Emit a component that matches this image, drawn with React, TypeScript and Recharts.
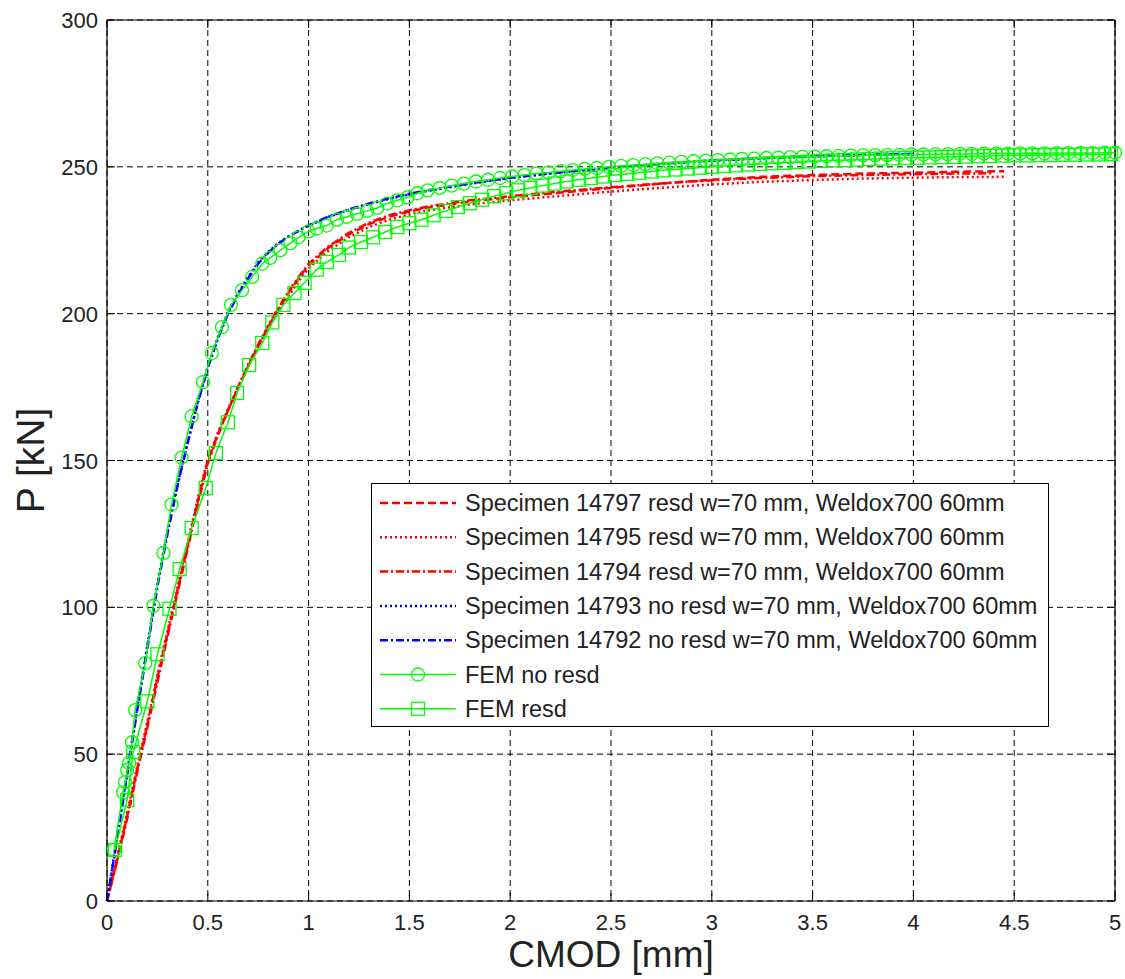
import { LineChart, Line, XAxis, YAxis, CartesianGrid, ReferenceLine, Legend } from 'recharts';

// CMOD [mm], P [kN] pairs
const spec14797: [number, number][] = [
  [0, 0], [0.05, 14], [0.1, 29], [0.15, 45], [0.2, 60], [0.25, 76], [0.3, 91], [0.35, 106], [0.4, 121], [0.45, 136],
  [0.5, 150], [0.55, 159], [0.6, 167], [0.65, 174.5], [0.7, 182], [0.75, 189], [0.8, 195.5], [0.85, 201.5], [0.9, 207],
  [0.95, 212], [1.0, 216.5], [1.1, 222.5], [1.2, 227], [1.3, 230.5], [1.4, 233], [1.5, 234.8], [1.6, 236.2], [1.8, 238.2],
  [2.0, 239.6], [2.2, 240.9], [2.4, 242.2], [2.6, 243.4], [2.8, 244.6], [3.0, 245.6], [3.25, 246.6], [3.5, 247.2],
  [3.75, 247.7], [4.0, 248], [4.2, 248.3], [4.45, 248.5],
];
const spec14795: [number, number][] = [
  [0, 0], [0.05, 15], [0.1, 30], [0.15, 46], [0.2, 61], [0.25, 77], [0.3, 92], [0.35, 107], [0.4, 122], [0.45, 137],
  [0.5, 150.5], [0.55, 159.5], [0.6, 167.5], [0.65, 175], [0.7, 182.5], [0.75, 189], [0.8, 195], [0.85, 201], [0.9, 206],
  [0.95, 211], [1.0, 215.5], [1.1, 221.5], [1.2, 226], [1.3, 229.5], [1.4, 232], [1.5, 233.8], [1.6, 235.2], [1.8, 237.2],
  [2.0, 238.6], [2.2, 239.8], [2.4, 241], [2.6, 242.1], [2.8, 243.1], [3.0, 244], [3.25, 244.9], [3.5, 245.5],
  [3.75, 246], [4.0, 246.3], [4.2, 246.5], [4.45, 246.6],
];
const spec14794: [number, number][] = [
  [0, 0], [0.05, 13.5], [0.1, 28], [0.15, 44], [0.2, 59], [0.25, 74.5], [0.3, 90], [0.35, 105], [0.4, 120], [0.45, 135],
  [0.5, 149], [0.55, 158.5], [0.6, 167], [0.65, 175], [0.7, 182.5], [0.75, 189.5], [0.8, 196], [0.85, 202], [0.9, 207.5],
  [0.95, 212.5], [1.0, 217], [1.1, 223], [1.2, 227.5], [1.3, 231], [1.4, 233.5], [1.5, 235.2], [1.6, 236.6], [1.8, 238.6],
  [2.0, 240], [2.2, 241.3], [2.4, 242.5], [2.6, 243.6], [2.8, 244.6], [3.0, 245.4], [3.25, 246.2], [3.5, 246.8],
  [3.75, 247.2], [4.0, 247.5], [4.2, 247.7], [4.4, 247.8],
];
const spec14793: [number, number][] = [
  [0, 0], [0.05, 22], [0.1, 44], [0.15, 66], [0.2, 87], [0.25, 108], [0.3, 126], [0.35, 142], [0.4, 156], [0.45, 170],
  [0.5, 182], [0.55, 192], [0.6, 200.5], [0.65, 207], [0.7, 212.5], [0.75, 217.5], [0.8, 221], [0.85, 224], [0.9, 226.3],
  [0.95, 228.3], [1.0, 230], [1.1, 233], [1.2, 235.3], [1.3, 237.3], [1.4, 239.1], [1.5, 240.6], [1.6, 241.9], [1.8, 244.2],
  [2.0, 246.2], [2.2, 247.7], [2.4, 249], [2.6, 250.2], [2.8, 251.2], [3.0, 252.1], [3.25, 252.9], [3.5, 253.5],
  [3.75, 254], [4.0, 254.3],
];
const spec14792: [number, number][] = [
  [0, 0], [0.05, 21], [0.1, 43], [0.15, 65], [0.2, 86], [0.25, 107], [0.3, 125], [0.35, 141.5], [0.4, 156], [0.45, 169.5],
  [0.5, 181.5], [0.55, 191.5], [0.6, 200], [0.65, 206.5], [0.7, 212], [0.75, 217], [0.8, 220.8], [0.85, 223.8], [0.9, 226.2],
  [0.95, 228.2], [1.0, 230], [1.1, 233.1], [1.2, 235.5], [1.3, 237.5], [1.4, 239.3], [1.5, 240.8], [1.6, 242.1], [1.8, 244.4],
  [2.0, 246.3], [2.2, 247.8], [2.4, 249.1], [2.6, 250.3], [2.8, 251.3], [3.0, 252.2], [3.25, 253], [3.5, 253.6],
  [3.75, 254.1], [4.0, 254.4],
];
const femNoResd: [number, number][] = [
  [0.035, 17.4], [0.08, 37], [0.09, 40.5], [0.1, 44.6], [0.11, 47], [0.124, 54], [0.14, 65], [0.19, 81], [0.23, 100.5],
  [0.28, 118.5], [0.32, 135], [0.37, 151], [0.42, 165], [0.476, 176.7], [0.52, 186.6], [0.57, 195.4], [0.615, 203],
  [0.67, 208], [0.72, 212.5], [0.77, 217], [0.81, 219], [0.86, 221.6], [0.91, 224], [0.95, 226], [1.0, 228], [1.04, 229],
  [1.09, 230], [1.14, 232], [1.19, 233], [1.24, 234], [1.29, 235], [1.34, 236], [1.39, 237.5], [1.44, 238.6], [1.49, 239.6],
  [1.54, 241], [1.59, 242], [1.65, 242.8], [1.71, 243.6], [1.77, 244.3], [1.83, 245], [1.89, 245.6], [1.95, 246.2],
  [2.01, 246.7], [2.07, 247.2], [2.13, 247.7], [2.19, 248.1], [2.25, 248.5], [2.31, 248.9], [2.37, 249.3], [2.43, 249.6],
  [2.49, 250], [2.55, 250.3], [2.61, 250.6], [2.67, 250.9], [2.73, 251.2], [2.79, 251.4], [2.85, 251.7], [2.91, 251.9],
  [2.97, 252.1], [3.03, 252.3], [3.09, 252.5], [3.15, 252.7], [3.21, 252.8], [3.27, 253], [3.33, 253.1], [3.39, 253.3],
  [3.45, 253.4], [3.51, 253.5], [3.57, 253.6], [3.63, 253.7], [3.69, 253.8], [3.75, 253.9], [3.81, 254], [3.87, 254],
  [3.93, 254.1], [3.99, 254.2], [4.05, 254.2], [4.11, 254.3], [4.17, 254.3], [4.23, 254.4], [4.29, 254.4], [4.35, 254.5],
  [4.41, 254.5], [4.47, 254.5], [4.53, 254.6], [4.59, 254.6], [4.65, 254.6], [4.71, 254.7], [4.77, 254.7], [4.83, 254.7],
  [4.89, 254.7], [4.95, 254.8], [5.0, 254.8],
];
const femResd: [number, number][] = [
  [0.04, 17.4], [0.1, 34.4], [0.13, 50.7], [0.2, 68], [0.25, 84], [0.31, 99.5], [0.36, 113], [0.42, 127], [0.49, 140.6],
  [0.54, 152.5], [0.6, 163], [0.645, 173], [0.705, 182.5], [0.77, 190], [0.82, 197], [0.875, 203], [0.93, 207],
  [0.98, 210.5], [1.04, 215], [1.09, 217.6], [1.15, 220], [1.2, 222.5], [1.26, 224.4], [1.32, 226], [1.38, 227.8],
  [1.44, 229.5], [1.5, 230.8], [1.56, 232], [1.62, 233.5], [1.68, 235], [1.74, 236.3], [1.8, 237.6], [1.86, 238.8],
  [1.92, 240], [1.98, 241], [2.04, 242], [2.1, 242.8], [2.16, 243.6], [2.22, 244.3], [2.28, 245], [2.34, 245.6],
  [2.4, 246.2], [2.46, 246.7], [2.52, 247.2], [2.58, 247.6], [2.64, 248], [2.7, 248.4], [2.76, 248.8], [2.82, 249.1],
  [2.88, 249.4], [2.94, 249.7], [3.0, 250], [3.06, 250.3], [3.12, 250.5], [3.18, 250.8], [3.24, 251], [3.3, 251.2],
  [3.36, 251.4], [3.42, 251.6], [3.48, 251.8], [3.54, 252], [3.6, 252.2], [3.66, 252.3], [3.72, 252.5], [3.78, 252.6],
  [3.84, 252.8], [3.9, 252.9], [3.96, 253], [4.02, 253.1], [4.08, 253.2], [4.14, 253.3], [4.2, 253.4], [4.26, 253.5],
  [4.32, 253.6], [4.38, 253.7], [4.44, 253.8], [4.5, 253.9], [4.56, 253.9], [4.62, 254], [4.68, 254], [4.74, 254.1],
  [4.8, 254.1], [4.86, 254.2], [4.92, 254.2], [4.98, 254.3],
];

const xTicks = [0, 0.5, 1, 1.5, 2, 2.5, 3, 3.5, 4, 4.5, 5];
const yTicks = [0, 50, 100, 150, 200, 250, 300];

const FONT = '"Liberation Sans", Arial, sans-serif';
const RED = '#ff0000';
const BLUE = '#0000ff';
const GREEN = '#00ff00';

const toRows = (pts: [number, number][]) => pts.map(([x, y]) => ({ x, y }));

type SeriesDef = {
  name: string;
  data: [number, number][];
  color: string;
  dash?: string;
  width: number;
  marker?: 'circle' | 'square';
};

const series: SeriesDef[] = [
  { name: 'Specimen 14797 resd w=70 mm, Weldox700 60mm', data: spec14797, color: RED, dash: '8 4', width: 2.5 },
  { name: 'Specimen 14795 resd w=70 mm, Weldox700 60mm', data: spec14795, color: RED, dash: '2 3', width: 2.5 },
  { name: 'Specimen 14794 resd w=70 mm, Weldox700 60mm', data: spec14794, color: RED, dash: '8 3 2 3', width: 2.5 },
  { name: 'Specimen 14793 no resd w=70 mm, Weldox700 60mm', data: spec14793, color: BLUE, dash: '2 3', width: 2.5 },
  { name: 'Specimen 14792 no resd w=70 mm, Weldox700 60mm', data: spec14792, color: BLUE, dash: '8 3 2 3', width: 2.5 },
  { name: 'FEM no resd', data: femNoResd, color: GREEN, width: 1.5, marker: 'circle' },
  { name: 'FEM resd', data: femResd, color: GREEN, width: 1.5, marker: 'square' },
];

const PLOT_TOP = 20;
const PLOT_BOTTOM = 901;
const PLOT_LEFT = 107;
const PLOT_RIGHT = 1115;

const XTick = (props: any) => {
  const { x, y, payload } = props;
  return (
    <g>
      <line x1={x} x2={x} y1={y} y2={y - 8} stroke="#000" />
      <line x1={x} x2={x} y1={PLOT_TOP} y2={PLOT_TOP + 8} stroke="#000" />
      <text x={x} y={y + 29} textAnchor="middle" fontFamily={FONT} fontSize={22} fill="#222">
        {payload.value}
      </text>
    </g>
  );
};

const YTick = (props: any) => {
  const { x, y, payload } = props;
  return (
    <g>
      <line x1={x} x2={x + 8} y1={y} y2={y} stroke="#000" />
      <line x1={PLOT_RIGHT} x2={PLOT_RIGHT - 8} y1={y} y2={y} stroke="#000" />
      <text x={x - 9} y={y + 8} textAnchor="end" fontFamily={FONT} fontSize={22} fill="#222">
        {payload.value}
      </text>
    </g>
  );
};

const SquareDot = (props: any) => {
  const { cx, cy, index } = props;
  if (cx == null || cy == null) return <g key={index} />;
  return <rect key={index} x={cx - 6.5} y={cy - 6.5} width={13} height={13} fill="none" stroke={GREEN} strokeWidth={1.3} />;
};

const LegendBox = () => {
  const w = 678;
  const h = 244;
  return (
    <svg width={w} height={h} style={{ display: 'block' }}>
      <rect x={0.5} y={0.5} width={w - 1} height={h - 1} fill="#fff" stroke="#000" strokeWidth={1} />
      {series.map((s, i) => {
        const cy = 20 + i * 34.3;
        return (
          <g key={s.name}>
            <line x1={9} x2={85} y1={cy} y2={cy} stroke={s.color} strokeWidth={s.width} strokeDasharray={s.dash} />
            {s.marker === 'circle' && <circle cx={47} cy={cy} r={6.5} fill="none" stroke={GREEN} strokeWidth={1.3} />}
            {s.marker === 'square' && (
              <rect x={40.5} y={cy - 6.5} width={13} height={13} fill="none" stroke={GREEN} strokeWidth={1.3} />
            )}
            <text x={94} y={cy + 8} fontFamily={FONT} fontSize={23.5} fill="#222">
              {s.name}
            </text>
          </g>
        );
      })}
    </svg>
  );
};

const YLabel = () => {
  const cy = (PLOT_TOP + PLOT_BOTTOM) / 2;
  return (
    <text
      x={30}
      y={cy}
      transform={`rotate(-90 30 ${cy})`}
      textAnchor="middle"
      dominantBaseline="central"
      fontFamily={FONT}
      fontSize={39}
      fill="#222"
    >
      P [kN]
    </text>
  );
};

const XLabel = () => (
  <text x={(PLOT_LEFT + PLOT_RIGHT) / 2} y={967} textAnchor="middle" fontFamily={FONT} fontSize={37} fill="#222">
    CMOD [mm]
  </text>
);

export default function App() {
  return (
    <div style={{ position: 'absolute', left: 0, top: 0, background: '#fff' }}>
      <LineChart width={1125} height={979} margin={{ top: PLOT_TOP, right: 1125 - PLOT_RIGHT, bottom: 0, left: 0 }}>
        <CartesianGrid stroke="#000" strokeDasharray="6 4" strokeWidth={1} />
        <XAxis
          type="number"
          dataKey="x"
          domain={[0, 5]}
          ticks={xTicks}
          allowDecimals
          height={979 - PLOT_BOTTOM}
          tickSize={0}
          tickMargin={0}
          tickLine={false}
          tick={<XTick />}
          axisLine={{ stroke: '#000', strokeWidth: 1.2 }}
          interval={0}
          label={<XLabel />}
        />
        <YAxis
          type="number"
          dataKey="y"
          domain={[0, 300]}
          ticks={yTicks}
          width={PLOT_LEFT}
          tickSize={0}
          tickMargin={0}
          tickLine={false}
          tick={<YTick />}
          axisLine={{ stroke: '#000', strokeWidth: 1.2 }}
          interval={0}
          label={<YLabel />}
        />
        <ReferenceLine y={300} stroke="#000" strokeWidth={1.2} />
        <ReferenceLine x={5} stroke="#000" strokeWidth={1.2} />
        {series.map((s) => (
          <Line
            key={s.name}
            name={s.name}
            data={toRows(s.data)}
            dataKey="y"
            type="linear"
            stroke={s.color}
            strokeWidth={s.width}
            strokeDasharray={s.dash}
            dot={
              s.marker === 'circle'
                ? { r: 6.5, fill: 'none', stroke: GREEN, strokeWidth: 1.3 }
                : s.marker === 'square'
                ? (p: any) => <SquareDot {...p} key={p.index} />
                : false
            }
            activeDot={false}
            isAnimationActive={false}
          />
        ))}
        <Legend
          layout="horizontal"
          verticalAlign="middle"
          align="center"
          content={<LegendBox />}
          wrapperStyle={{ left: 371, top: 483, width: 678, height: 244 }}
        />
      </LineChart>
    </div>
  );
}
